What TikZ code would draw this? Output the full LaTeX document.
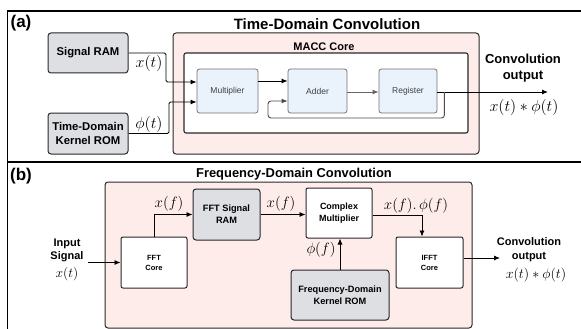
\RequirePackage{fix-cm}
\documentclass[tikz,border=0pt]{standalone}
\usepackage{fontspec}
\setmainfont{Liberation Sans}
\usetikzlibrary{arrows.meta,calc}
\definecolor{pinkbg}{RGB}{253,236,234}
\definecolor{graybox}{RGB}{221,223,227}
\definecolor{bluebox}{RGB}{234,242,252}
\definecolor{edgegray}{RGB}{40,40,40}
\newcommand\fsz[2]{\fontsize{#1}{#2}\selectfont}
\begin{document}
\begin{tikzpicture}[x=1pt,y=-1pt,
  >={Latex[length=6pt,width=5pt]},
  conn/.style={draw=black,line width=0.9pt,->},
  pinkbox/.style={draw=edgegray,fill=pinkbg,rounded corners=3pt,line width=1pt,inner sep=0pt},
  graybx/.style={draw=edgegray,fill=graybox,rounded corners=3pt,line width=1pt,inner sep=0pt,align=center},
  whitebx/.style={draw=edgegray,fill=white,rounded corners=2pt,line width=1pt,inner sep=0pt,align=center},
  bluebx/.style={draw=black!55,fill=bluebox,rounded corners=2.5pt,line width=0.8pt,inner sep=0pt,align=center,text=black!75,font=\fsz{8.5}{10}},
  lbl/.style={font=\fsz{16}{18}},
  lblb/.style={font=\fsz{15}{17}},
  ttl/.style={font=\fsz{#1}{#1}\bfseries},
  ttl/.default=13
]
\useasboundingbox (0,0) rectangle (581,329);
% frame
\draw[line width=1.6pt] (581,11) -- (7.5,11) -- (7.5,329);
\draw[line width=2pt] (7.5,162) -- (581,162);

% ---------- (a) ----------
\node[ttl=17] (la) at (21,23) {(a)};
\node[ttl=15] (ta) at (327,24) {Time-Domain Convolution};
\node[pinkbox,minimum width=306pt,minimum height=121pt] (pa) at (326,93.5) {};
\node[ttl=11] (maccl) at (324,47) {MACC Core};
\node[whitebx,line width=1.1pt,minimum width=284pt,minimum height=80pt] (macc) at (326,93) {};
\node[bluebx,minimum width=61pt,minimum height=44pt] (mult) at (227.5,91) {Multiplier};
\node[bluebx,minimum width=59pt,minimum height=44pt] (adder) at (317.5,91) {Adder};
\node[bluebx,minimum width=58pt,minimum height=44pt] (reg) at (408,91) {Register};
\node[graybx,minimum width=80pt,minimum height=40pt,font=\fsz{11.3}{13}\bfseries] (sram) at (88,53) {Signal RAM};
\node[graybx,minimum width=80pt,minimum height=41pt,font=\fsz{11.3}{13.5}\bfseries] (krom) at (88,133.5) {Time-Domain\\Kernel ROM};

\draw[conn,rounded corners=1.5pt] (sram.east) -| (166,82) -- ($(mult.west)+(0,-9)$);
\draw[conn,rounded corners=1.5pt] (krom.east) -| (169,102) -- ($(mult.west)+(0,11)$);
\node[lbl] (xa) at (149,64) {$x(t)$};
\node[lbl] (pha) at (149,124) {$\phi(t)$};
\draw[conn] ($(mult.east)+(0,-10)$) -- ($(adder.west)+(0,-10)$);
\draw[conn,draw=black!60,line width=0.8pt] ($(adder.east)+(0,1)$) -- ($(reg.west)+(0,1)$);
\coordinate (outa) at (548,92);
\draw[conn] ($(reg.east)+(0,1)$) -- (outa);
\draw[conn,draw=black!70,line width=0.9pt,rounded corners=3pt] ($(reg.east)+(7,1)$) |- (268,118) |- ($(adder.west)+(0,10)$);
\node[align=center,font=\fsz{13}{16}\bfseries] (cao) at (523,68) {Convolution\\output};
\node[lbl] (ra) at (524,107) {$x(t) * \phi(t)$};

% ---------- (b) ----------
\node[ttl=17] (lb) at (21,176) {(b)};
\node[ttl=12.9] (tb) at (294,174) {Frequency-Domain Convolution};
\node[pinkbox,minimum width=367pt,minimum height=146pt] (pb) at (288.5,255) {};
\node[whitebx,minimum width=66pt,minimum height=51pt,font=\fsz{7.5}{10}\bfseries] (fft) at (154,262.5) {FFT\\Core};
\node[graybx,minimum width=67pt,minimum height=51pt,font=\fsz{9.2}{12}\bfseries] (fftram) at (226.5,214.5) {FFT Signal\\RAM};
\node[whitebx,minimum width=66pt,minimum height=50pt,font=\fsz{9}{12}\bfseries] (cm) at (339,213) {Complex\\Multiplier};
\node[whitebx,minimum width=67pt,minimum height=51pt,font=\fsz{7.5}{10}\bfseries] (ifft) at (429.5,262.5) {IFFT\\Core};
\node[graybx,minimum width=98pt,minimum height=50pt,font=\fsz{9.2}{12}\bfseries] (kromb) at (340,295) {Frequency-Domain\\Kernel ROM};

\node[align=center,font=\fsz{11}{13}\bfseries] (insig) at (67,250) {Input\\Signal};
\node[font=\fsz{13.5}{15}] (inx) at (67,274) {$x(t)$};
\coordinate (inb) at (88,262.5);
\draw[conn,line width=0.8pt] (inb) -- (fft.west);
\draw[conn,line width=0.8pt] (fft.north) |- (fftram.west);
\node[lblb] (xf1) at (169,204) {$x(f)$};
\draw[conn,line width=0.8pt] (fftram.east) -- (fftram.east -| cm.west);
\node[lblb] (xf2) at (281,204) {$x(f)$};
\draw[conn,line width=0.8pt] ($(cm.east)+(0,2)$) -| ($(ifft.north)+(-7.5,0)$);
\node[lblb] (xpf) at (416,206) {$x(f).\,\phi(f)$};
\draw[conn,line width=0.8pt] (kromb.north) -- (kromb.north |- cm.south);
\node[lblb] (phf) at (321,250) {$\phi(f)$};
\coordinate (outb) at (500,258);
\draw[conn,line width=0.8pt] ($(ifft.east)+(0,-4.5)$) -- (outb);
\node[align=center,font=\fsz{11}{14}\bfseries] (cbo) at (529,250) {Convolution\\output};
\node[font=\fsz{14}{16}] (rb) at (536,275) {$x(t) * \phi(t)$};
\end{tikzpicture}
\end{document}
